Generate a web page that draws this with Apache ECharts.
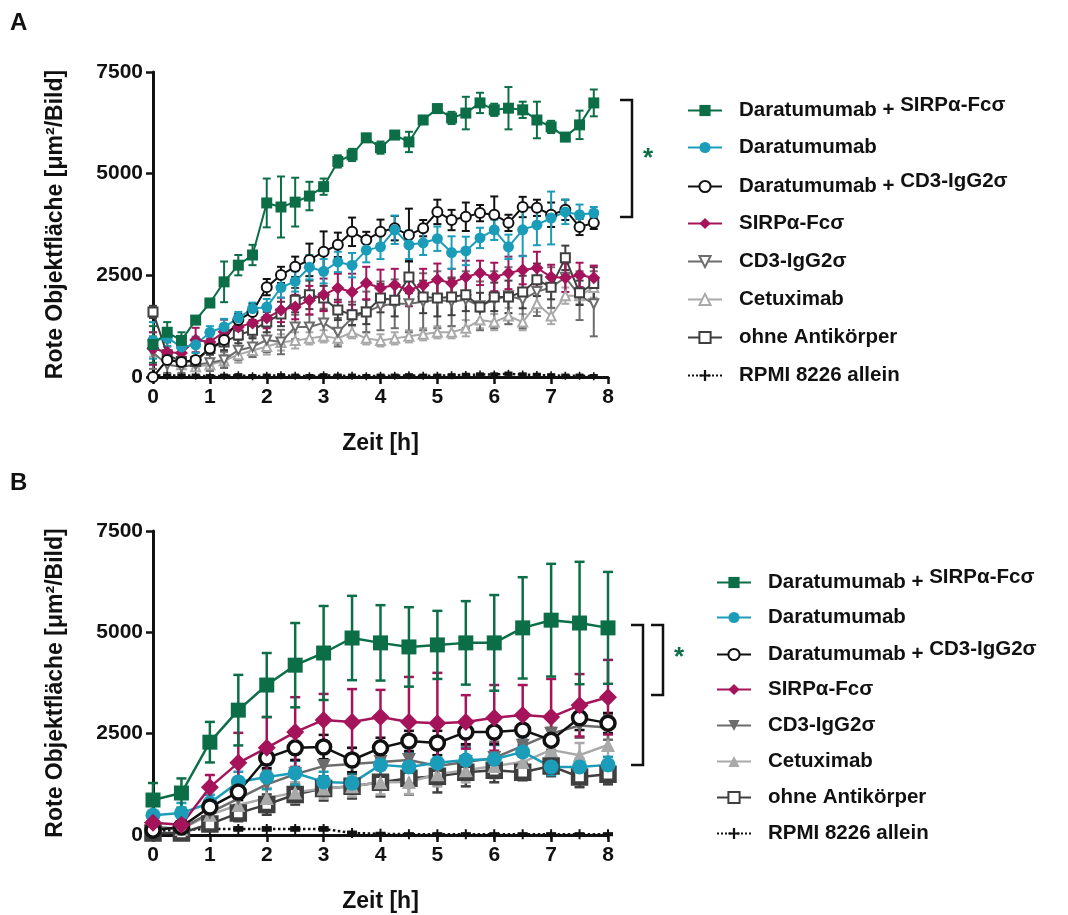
<!DOCTYPE html>
<html>
<head>
<meta charset="utf-8">
<script src="https://cdn.jsdelivr.net/npm/echarts@6/dist/echarts.min.js"></script>
<style>
html,body{margin:0;padding:0;background:#fff;}
#chart{width:1068px;height:915px;}
</style>
</head>
<body>
<div id="chart"></div>
<script>
// ---------- DATA ----------
const seriesNames = ['Daratumumab + SIRPα-Fcσ','Daratumumab','Daratumumab + CD3-IgG2σ','SIRPα-Fcσ','CD3-IgG2σ','Cetuximab','ohne Antikörper','RPMI 8226 allein'];
const xTicks = [0,1,2,3,4,5,6,7,8];
const yTicks = [0,2500,5000,7500];

// Panel A (time in h, every 0.25 h)
const timeA = [0,0.25,0.5,0.75,1,1.25,1.5,1.75,2,2.25,2.5,2.75,3,3.25,3.5,3.75,4,4.25,4.5,4.75,5,5.25,5.5,5.75,6,6.25,6.5,6.75,7,7.25,7.5,7.75];
const daraSirpA = [800,1100,900,1400,1820,2340,2750,3000,4280,4180,4300,4450,4680,5300,5460,5880,5640,5950,5780,6320,6600,6370,6490,6740,6570,6610,6570,6320,6150,5900,6200,6740];
const daraSirpA_sd = [450,250,200,100,100,500,250,250,600,750,600,350,200,150,150,100,150,100,250,100,100,150,400,250,150,520,200,450,150,100,350,330];
const daraA = [900,960,740,790,1100,1230,1450,1680,1720,2200,2350,2700,2600,2830,2750,3120,3200,3620,3250,3300,3400,3060,3100,3420,3620,3200,3620,3740,3910,4060,3990,4030];
const daraA_sd = [450,200,150,200,150,200,150,150,200,250,250,300,300,250,300,300,300,350,350,300,300,400,350,250,250,300,650,500,650,300,250,150];
const daraCd3A = [0,420,370,420,700,910,1400,1600,2210,2510,2710,2880,3080,3250,3570,3370,3570,3660,3490,3660,4060,3860,3940,4030,3990,3790,4180,4160,3990,4110,3690,3790];
const daraCd3A_sd = [30,60,60,80,100,120,150,200,200,200,250,400,500,300,350,200,300,300,650,200,300,250,350,200,450,200,250,200,300,250,200,150];
const sirpA = [700,610,590,910,860,1110,1230,1330,1450,1650,1720,1890,2020,2190,2090,2310,2190,2260,2140,2260,2390,2310,2460,2560,2460,2560,2630,2680,2460,2440,2510,2440];
const sirpA_sd = [400,300,250,300,200,300,250,250,250,300,300,350,400,350,450,400,450,400,400,400,400,350,400,300,350,400,350,400,300,350,300,300];
const cd3A = [600,300,250,300,350,420,660,740,910,860,1230,1230,1330,1100,1450,1600,1750,1800,1800,1850,1900,1850,1900,1750,1900,2000,1900,2100,2200,2450,2000,1800];
const cd3A_sd = [400,200,150,150,200,200,250,250,300,300,300,300,350,350,400,500,600,600,700,700,700,600,700,600,700,700,700,600,500,500,600,800];
const cetuxA = [800,500,300,250,300,400,550,650,750,850,900,950,1000,950,1100,950,900,950,1000,1050,1100,1100,1200,1400,1350,1500,1350,1800,1500,2000,2000,2200];
const cetuxA_sd = [300,150,100,100,150,150,200,150,200,200,200,150,150,150,150,150,150,150,150,150,150,150,200,200,200,200,200,200,200,200,200,250];
const ohneA = [1600,550,380,380,700,860,1030,1150,1350,1550,1890,2020,1940,1650,1530,1600,1940,1890,2460,1970,1940,1970,2020,1720,1970,1970,2090,2390,2210,2930,2070,2300];
const ohneA_sd = [150,200,100,100,150,200,200,200,250,300,300,350,300,250,250,300,350,400,400,400,450,450,400,350,350,400,400,400,300,300,300,400];
const rpmiA = [50,30,40,30,20,30,40,20,30,40,30,20,40,30,30,20,30,30,40,30,30,40,50,60,60,80,60,50,40,30,30,20];
const rpmiA_sd = [30,30,30,30,30,30,30,30,30,30,30,30,30,30,30,30,30,30,30,30,30,30,30,30,30,30,30,30,30,30,30,30];

// Panel B (time in h, every 0.5 h)
const timeB = [0,0.5,1,1.5,2,2.5,3,3.5,4,4.5,5,5.5,6,6.5,7,7.5,8];
const daraSirpB = [863,1036,2290,3080,3700,4190,4490,4860,4740,4640,4690,4740,4740,5110,5300,5230,5110];
const daraSirpB_sd = [420,360,500,870,790,1040,1160,1040,930,980,840,1030,1180,1250,1390,1510,1380];
const daraB = [490,540,790,1310,1430,1530,1310,1280,1730,1680,1780,1850,1870,2050,1680,1680,1730];
const daraB_sd = [250,250,200,250,300,300,250,250,300,350,350,300,350,300,200,200,200];
const daraCd3B = [120,200,690,1060,1900,2150,2170,1850,2150,2320,2270,2540,2540,2590,2340,2890,2760];
const daraCd3B_sd = [80,80,150,200,250,300,300,300,250,250,300,300,300,300,300,300,250];
const sirpB = [300,250,1180,1780,2150,2540,2840,2790,2910,2790,2760,2790,2890,2960,2910,3200,3400];
const sirpB_sd = [250,200,300,740,760,860,640,810,670,1110,1240,660,810,740,940,770,920];
const cd3B = [200,150,550,900,1250,1500,1700,1750,1800,1850,1700,1800,1900,2200,2500,2700,2650];
const cd3B_sd = [150,100,200,300,350,350,400,400,450,450,450,400,400,400,400,300,300];
const cetuxB = [200,150,500,740,910,1050,1150,1200,1300,1310,1500,1600,1700,1800,2100,1970,2220];
const cetuxB_sd = [150,100,150,250,250,250,250,250,300,300,300,300,300,300,300,300,300];
const ohneB = [50,50,270,540,750,1000,1150,1200,1300,1400,1450,1550,1600,1550,1700,1430,1500];
const ohneB_sd = [50,50,150,200,250,250,300,300,350,400,400,350,300,200,250,250,250];
const rpmiB = [100,130,150,150,150,150,150,50,30,20,20,20,20,20,20,20,20];
const rpmiB_sd = [40,40,40,40,40,40,40,30,20,20,20,20,20,20,20,20,20];

// ---------- STYLES ----------
const FONT = 'Liberation Sans, Arial, sans-serif';
const GREEN = '#0c6e47', CYAN = '#1b9dba', BLACK = '#111111', MAG = '#a5145a',
      GRAY = '#6c6c6c', LGRAY = '#a9a9a9', DGRAY = '#3f3f3f';
const PLUS = 'path://M4,0h2v4h4v2h-4v4h-2v-4h-4v-2h4z';

const panelA = [
  {name: seriesNames[7], m: rpmiA, sd: rpmiA_sd, color: BLACK, symbol: PLUS, size: 8, fill: BLACK, dotted: true},
  {name: seriesNames[5], m: cetuxA, sd: cetuxA_sd, color: LGRAY, symbol: 'triangle', size: 9, fill: '#fff', bw: 2},
  {name: seriesNames[4], m: cd3A, sd: cd3A_sd, color: GRAY, symbol: 'triangle', rotate: 180, size: 9, fill: '#fff', bw: 2},
  {name: seriesNames[6], m: ohneA, sd: ohneA_sd, color: DGRAY, symbol: 'rect', size: 9, fill: '#fff', bw: 2},
  {name: seriesNames[3], m: sirpA, sd: sirpA_sd, color: MAG, symbol: 'diamond', size: 13, fill: MAG},
  {name: seriesNames[2], m: daraCd3A, sd: daraCd3A_sd, color: BLACK, symbol: 'circle', size: 10, fill: '#fff', bw: 2},
  {name: seriesNames[1], m: daraA, sd: daraA_sd, color: CYAN, symbol: 'circle', size: 11, fill: CYAN},
  {name: seriesNames[0], m: daraSirpA, sd: daraSirpA_sd, color: GREEN, symbol: 'rect', size: 11, fill: GREEN}
];
const ZW = '\u200b';
const panelB = [
  {name: seriesNames[7]+ZW, m: rpmiB, sd: rpmiB_sd, color: BLACK, symbol: PLUS, size: 10, fill: BLACK, dotted: true},
  {name: seriesNames[6]+ZW, m: ohneB, sd: ohneB_sd, color: DGRAY, symbol: 'rect', size: 13, fill: '#fff', bw: 4.5},
  {name: seriesNames[5]+ZW, m: cetuxB, sd: cetuxB_sd, color: LGRAY, symbol: 'triangle', size: 14, fill: LGRAY},
  {name: seriesNames[4]+ZW, m: cd3B, sd: cd3B_sd, color: GRAY, symbol: 'triangle', rotate: 180, size: 14, fill: GRAY},
  {name: seriesNames[1]+ZW, m: daraB, sd: daraB_sd, color: CYAN, symbol: 'circle', size: 15, fill: CYAN},
  {name: seriesNames[2]+ZW, m: daraCd3B, sd: daraCd3B_sd, color: BLACK, symbol: 'circle', size: 14, fill: '#fff', bw: 3.5},
  {name: seriesNames[3]+ZW, m: sirpB, sd: sirpB_sd, color: MAG, symbol: 'diamond', size: 18, fill: MAG},
  {name: seriesNames[0]+ZW, m: daraSirpB, sd: daraSirpB_sd, color: GREEN, symbol: 'rect', size: 15, fill: GREEN}
];

function errRender(color, capHalf, lw) {
  return function (params, api) {
    const x = api.value(0), m = api.value(1), s = api.value(2);
    const top = api.coord([x, m + s]);
    const bot = api.coord([x, Math.max(0, m - s)]);
    const st = {stroke: color, lineWidth: lw};
    return {type: 'group', children: [
      {type: 'line', shape: {x1: top[0], y1: top[1], x2: bot[0], y2: bot[1]}, style: st},
      {type: 'line', shape: {x1: top[0]-capHalf, y1: top[1], x2: top[0]+capHalf, y2: top[1]}, style: st},
      {type: 'line', shape: {x1: bot[0]-capHalf, y1: bot[1], x2: bot[0]+capHalf, y2: bot[1]}, style: st}
    ]};
  };
}

const series = [];
function addPanel(defs, times, idx, lw, capHalf) {
  defs.forEach(function (d) {
    series.push({
      type: 'custom', xAxisIndex: idx, yAxisIndex: idx, z: 2, silent: true,
      renderItem: errRender(d.color, capHalf, lw),
      data: times.map(function (t, i) { return [t, d.m[i], d.sd[i]]; })
    });
  });
  defs.forEach(function (d) {
    series.push({
      type: 'line', name: d.name, xAxisIndex: idx, yAxisIndex: idx, z: 3,
      symbol: d.symbol, symbolSize: d.size, symbolRotate: d.rotate || 0,
      showAllSymbol: true,
      lineStyle: {color: d.color, width: d.dotted ? 2.5 : lw, type: d.dotted ? 'dotted' : 'solid'},
      itemStyle: {color: d.fill, borderColor: d.color, borderWidth: d.bw || 0},
      emphasis: {disabled: true},
      data: times.map(function (t, i) { return [t, d.m[i]]; })
    });
  });
}
addPanel(panelA, timeA, 0, 2, 4);
addPanel(panelB, timeB, 1, 2.5, 5);

function axisX(idx) {
  return {
    type: 'value', gridIndex: idx, min: xTicks[0], max: xTicks[xTicks.length-1], interval: 1,
    name: 'Zeit [h]', nameLocation: 'middle', nameGap: 55,
    nameTextStyle: {fontFamily: FONT, fontWeight: 'bold', fontSize: 23, color: BLACK},
    axisLine: {onZero: false, lineStyle: {color: BLACK, width: 3}},
    axisTick: {length: 7, lineStyle: {width: 2.5, color: BLACK}},
    axisLabel: {fontFamily: FONT, fontWeight: 'bold', fontSize: 21, color: BLACK, margin: 10},
    splitLine: {show: false}
  };
}
function axisY(idx) {
  return {
    type: 'value', gridIndex: idx, min: yTicks[0], max: yTicks[yTicks.length-1], interval: 2500,
    name: 'Rote Objektfläche [μm²/Bild]', nameLocation: 'middle', nameGap: 86,
    nameTextStyle: {fontFamily: FONT, fontWeight: 'bold', fontSize: 23, color: BLACK},
    axisLine: {show: true, lineStyle: {color: BLACK, width: 3}},
    axisTick: {show: true, length: 7, lineStyle: {width: 2.5, color: BLACK}},
    axisLabel: {fontFamily: FONT, fontWeight: 'bold', fontSize: 21, color: BLACK, margin: 10,
                formatter: function (v) { return String(v); }},
    splitLine: {show: false}
  };
}

const rich = {
  g: {width: 12, fontSize: 20},
  n: {fontFamily: FONT, fontWeight: 'bold', fontSize: 20.5, color: BLACK},
  s: {fontFamily: FONT, fontWeight: 'bold', fontSize: 20.5, color: BLACK, padding: [0, 0, 10, 0]}
};
function fmt(name) {
  const nm = name.replace(ZW, '');
  const pre = 'Daratumumab + ';
  if (nm.indexOf(pre) === 0) return '{g| }{n|' + pre + '}{s|' + nm.slice(pre.length) + '}';
  return '{g| }{n|' + nm + '}';
}
const legends = [];
function addLegends(suffix, left, startY, step) {
  seriesNames.forEach(function (nm, i) {
    const raised = nm.indexOf('Daratumumab + ') === 0;
    legends.push({
      data: [nm + suffix], left: left, top: startY + i * step - (raised ? 15 : 11),
      padding: 0, itemWidth: 34, itemHeight: 14, selectedMode: false,
      formatter: fmt, textStyle: {rich: rich}
    });
  });
}
addLegends('', 687, 110, 38);
addLegends(ZW, 716, 582, 36);

function bracket(x1, x2, y1, y2) {
  return {type: 'polyline', shape: {points: [[x1, y1], [x2, y1], [x2, y2], [x1, y2]]},
          style: {stroke: BLACK, lineWidth: 2.5, fill: null}};
}
function label(txt, x, y, size, color) {
  return {type: 'text', left: x, top: y, style: {text: txt, fontFamily: FONT, fontWeight: 'bold', fontSize: size, fill: color}};
}

const option = {
  animation: false,
  backgroundColor: '#fff',
  grid: [
    {left: 153, top: 72, width: 455, height: 305},
    {left: 153, top: 531, width: 455, height: 304}
  ],
  xAxis: [axisX(0), axisX(1)],
  yAxis: [axisY(0), axisY(1)],
  legend: legends,
  series: series,
  graphic: [
    label('A', 10, 11, 24, BLACK),
    label('B', 10, 471, 24, BLACK),
    bracket(620, 632, 100, 217),
    label('*', 643, 146, 26, GREEN),
    bracket(631, 643, 625, 765),
    bracket(651, 663, 625, 695),
    label('*', 674, 645, 26, GREEN)
  ]
};
const chart = echarts.init(document.getElementById('chart'), null, {renderer: 'canvas'});
chart.setOption(option);
</script>
</body>
</html>
